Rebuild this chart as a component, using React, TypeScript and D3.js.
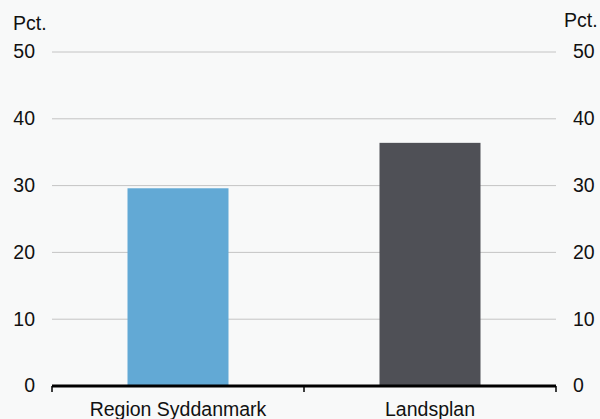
import {useEffect} from "react";
import * as d3 from "d3";

const categories = ["Region Syddanmark", "Landsplan"];
const values = [29.6, 36.4];
const colors = ["#62a9d5", "#4f5056"];
const yTicks = [0, 10, 20, 30, 40, 50];

const width = 600;
const height = 419;
const left = 52;
const right = 556;
const top = 52;
const bottom = 386;

export default function App() {
    useEffect(() => {
        document.body.style.margin = "0";
    }, []);

    const x = d3.scaleBand<string>().domain(categories).range([left, right]).paddingInner(0).paddingOuter(0);
    const y = d3.scaleLinear().domain([0, 50]).range([bottom, top]);
    const barW = 101;

    const font = "Liberation Sans, Arial, sans-serif";
    const fs = 19.5;

    return <svg width={width} height={height} style={{display: "block", background: "#f8f9f9", fontFamily: font}}>
        <rect width={width} height={height} fill="#f8f9f9"/>
        {yTicks.filter(t => t > 0).map(t => (
            <line key={t} x1={left} x2={right} y1={y(t)} y2={y(t)} stroke="#c4c4c4" strokeWidth={1}/>
        ))}
        {categories.map((c, i) => {
            const cx = x(c)! + x.bandwidth() / 2;
            return <rect key={c} x={cx - barW / 2} width={barW} y={y(values[i])} height={y(0) - y(values[i])} fill={colors[i]}/>;
        })}
        <line x1={left} x2={right} y1={bottom} y2={bottom} stroke="#000" strokeWidth={3}/>
        {[left, x(categories[1])!, right].map((tx, i) => (
            <line key={i} x1={tx} x2={tx} y1={bottom} y2={bottom + 6} stroke="#000" strokeWidth={1.5}/>
        ))}
        {yTicks.map(t => (
            <g key={t}>
                <text x={35} y={y(t)} dy="0.33em" textAnchor="end" fontSize={fs} fill="#111">{t}</text>
                <text x={573} y={y(t)} dy="0.33em" textAnchor="start" fontSize={fs} fill="#111">{t}</text>
            </g>
        ))}
        <text x={13} y={30} fontSize={fs} fill="#111">Pct.</text>
        <text x={564} y={27} fontSize={fs} fill="#111">Pct.</text>
        {categories.map(c => (
            <text key={c} x={x(c)! + x.bandwidth() / 2} y={416} textAnchor="middle" fontSize={fs} fill="#111">{c}</text>
        ))}
    </svg>;
}
